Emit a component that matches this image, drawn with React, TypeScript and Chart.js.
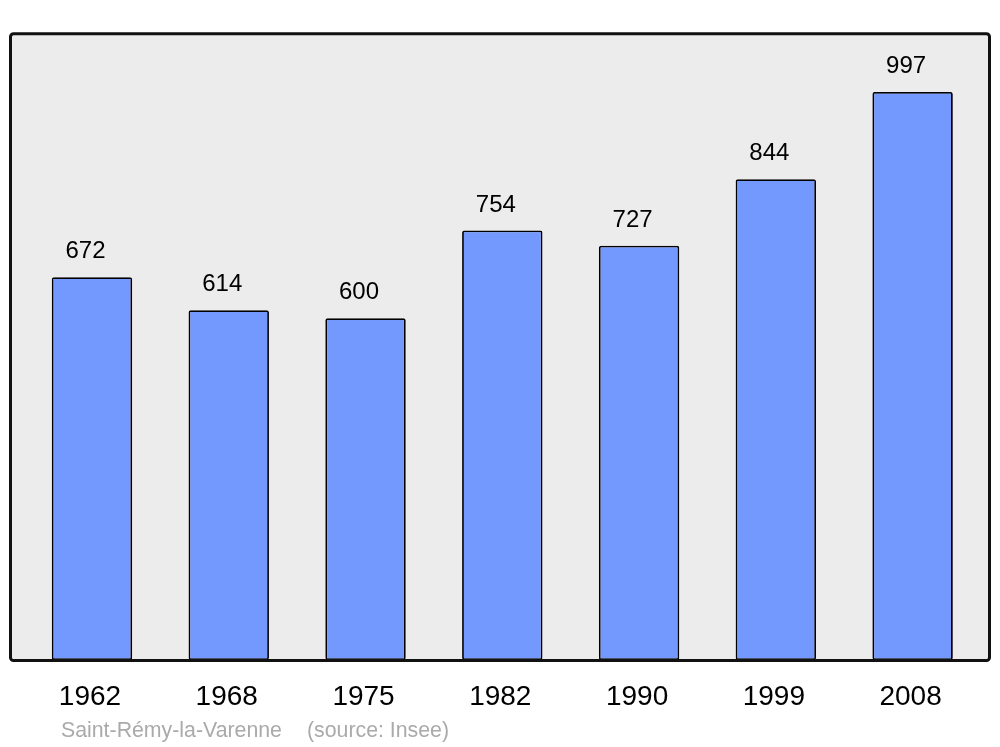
import React, { useEffect, useRef } from "react";
import { Chart, registerables } from "chart.js";

Chart.register(...registerables);

const years = ["1962", "1968", "1975", "1982", "1990", "1999", "2008"];
const population = [672, 614, 600, 754, 727, 844, 997];
const footerPlace = "Saint-Rémy-la-Varenne";
const footerSource = "(source: Insee)";
const FONT = "'Liberation Sans', Arial, sans-serif";

function roundRect(ctx: CanvasRenderingContext2D, x: number, y: number, w: number, h: number, r: number) {
  ctx.beginPath();
  ctx.moveTo(x + r, y);
  ctx.lineTo(x + w - r, y);
  ctx.arcTo(x + w, y, x + w, y + r, r);
  ctx.lineTo(x + w, y + h - r);
  ctx.arcTo(x + w, y + h, x + w - r, y + h, r);
  ctx.lineTo(x + r, y + h);
  ctx.arcTo(x, y + h, x, y + h - r, r);
  ctx.lineTo(x, y + r);
  ctx.arcTo(x, y, x + r, y, r);
  ctx.closePath();
}

const framePlugin = {
  id: "frame",
  beforeDatasetsDraw(chart: any) {
    const { ctx, chartArea } = chart;
    ctx.save();
    roundRect(ctx, 10.5, chartArea.top + 0.5, 979, chartArea.bottom - chartArea.top, 3);
    ctx.fillStyle = "#ececec";
    ctx.fill();
    ctx.restore();
  },
  afterDatasetsDraw(chart: any) {
    const { ctx, chartArea } = chart;
    ctx.save();
    roundRect(ctx, 10.5, chartArea.top + 0.5, 979, chartArea.bottom - chartArea.top, 3);
    ctx.strokeStyle = "#111111";
    ctx.lineWidth = 3;
    ctx.stroke();
    // value labels
    const meta = chart.getDatasetMeta(0);
    ctx.fillStyle = "#000000";
    ctx.font = `24px ${FONT}`;
    ctx.textAlign = "center";
    ctx.textBaseline = "middle";
    meta.data.forEach((bar: any, i: number) => {
      ctx.fillText(String(population[i]), bar.x - 6.5, bar.y - 25.5);
    });
    // footer
    ctx.fillStyle = "#aaaaaa";
    ctx.font = `21.3px ${FONT}`;
    ctx.textAlign = "left";
    ctx.textBaseline = "alphabetic";
    ctx.fillText(footerPlace, 61, 737);
    ctx.fillText(footerSource, 307, 737);
    ctx.restore();
  },
};

export default function App() {
  const ref = useRef<HTMLCanvasElement>(null);
  useEffect(() => {
    if (!ref.current) return;
    const chart = new Chart(ref.current, {
      type: "bar",
      data: {
        labels: years,
        datasets: [
          {
            data: population,
            backgroundColor: "#7399ff",
            borderColor: "#000000",
            borderWidth: 1.8,
            borderRadius: 2,
            borderSkipped: false,
            categoryPercentage: 1,
            barPercentage: 0.588,
          },
        ],
      },
      options: {
        animation: false,
        responsive: false,
        maintainAspectRatio: false,
        layout: { padding: { left: 23.6, right: 19, top: 33.3, bottom: 13.4 } },
        plugins: { legend: { display: false }, tooltip: { enabled: false }, title: { display: false } },
        scales: {
          x: {
            grid: { display: false, drawTicks: false, tickLength: 0 },
            border: { display: false },
            ticks: { color: "#000000", font: { size: 28, family: FONT }, padding: 20, maxRotation: 0, labelOffset: -2 },
          },
          y: { display: false, min: 0, max: 1100 },
        },
      },
      plugins: [framePlugin],
    });
    return () => chart.destroy();
  }, []);
  return (
    <div style={{ position: "absolute", left: 0, top: 0, width: 1000, height: 747, background: "#ffffff" }}>
      <canvas ref={ref} width={1000} height={747} style={{ display: "block" }} />
    </div>
  );
}
